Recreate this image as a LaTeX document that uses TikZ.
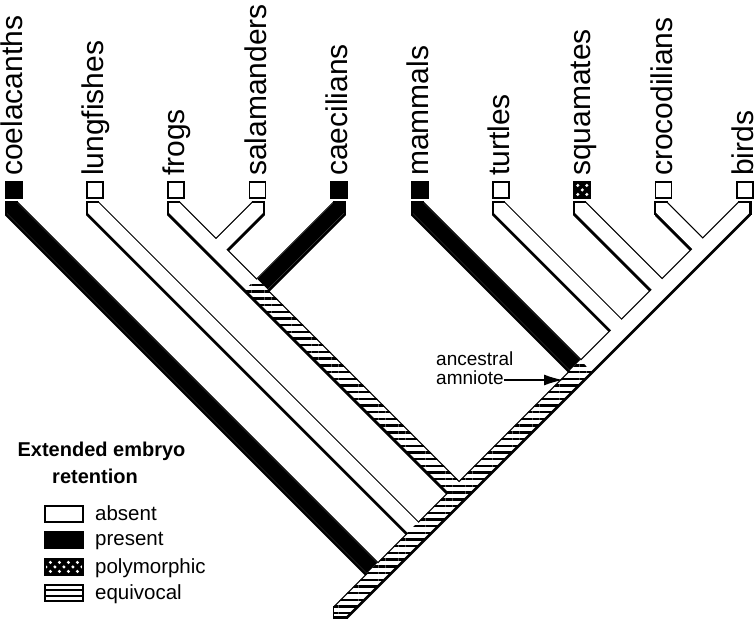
\documentclass[tikz,border=0pt]{standalone}
\usepackage{fontspec}
\setmainfont{Liberation Sans}
\usetikzlibrary{arrows.meta,patterns.meta}

\begin{document}
\begin{tikzpicture}[x=1pt, y=-1pt,
    taxon/.style={rotate=90, anchor=base west, inner sep=0pt, font=\fontsize{30}{36}\selectfont},
    tipbox/.style={draw, line width=1.8pt, minimum width=16pt, minimum height=16pt, inner sep=0pt, anchor=north west},
    legbox/.style={draw, line width=1.8pt, minimum width=38pt, minimum height=16pt, inner sep=0pt, anchor=north west},
    legtext/.style={anchor=base west, inner sep=0pt, font=\fontsize{20.5}{24}\selectfont},
    legtitle/.style={anchor=base, inner sep=0pt, font=\bfseries\fontsize{20}{24}\selectfont},
    anclabel/.style={anchor=base west, inner sep=0pt, font=\fontsize{19}{22}\selectfont},
    absent/.style={fill=white},
    present/.style={fill=black},
    poly/.style={fill=black, path picture={
        \foreach \dx in {-18,-9,0,9,18} {
          \fill[white] (path picture bounding box.center) ++(\dx,0) circle (1.7pt);
          \fill[white] (path picture bounding box.center) ++(\dx+4.5,4.5) circle (1.7pt);
          \fill[white] (path picture bounding box.center) ++(\dx+4.5,-4.5) circle (1.7pt);
        }}},
    equiv/.style={fill=white, path picture={
        \draw[line width=1.8pt] (path picture bounding box.west) ++(0,-3) -- ++(40,0);
        \draw[line width=1.8pt] (path picture bounding box.west) ++(0,3) -- ++(40,0);}},
    hatch/.style={pattern={Lines[angle=0,distance=6.7pt,line width=2.4pt]}},
    arr/.style={-{Latex[length=19pt,width=11pt]}, line width=1.6pt}
]
\useasboundingbox (0,0) rectangle (756,620);

% centre of each branch where it starts (y=202), and the joints
\coordinate (tcoel) at (6,202);
\coordinate (tlung) at (87.2,202);
\coordinate (tfrog) at (168.4,202);
\coordinate (tsala) at (263.6,202);
\coordinate (tcaec) at (344.8,202);
\coordinate (tmamm) at (412,202);
\coordinate (tturt) at (493.2,202);
\coordinate (tsqua) at (574.4,202);
\coordinate (tcroc) at (655.6,202);
\coordinate (tbird) at (750,202);
\coordinate (root) at (330,622);
\coordinate (jcoel) at (378,574);
\coordinate (jlung) at (418.6,533.4);
\coordinate (jamph) at (459.2,492.8);
\coordinate (jsala) at (216,249.6);
\coordinate (jcaec) at (256.6,290.2);
\coordinate (jmamm) at (581,371);
\coordinate (jturt) at (621.6,330.4);
\coordinate (jsqua) at (662.2,289.8);
\coordinate (jcroc) at (702.8,249.2);
% where the black branches stop
\coordinate (ecoel) at (372,568);
\coordinate (ecaec) at (262.6,284.2);
\coordinate (emamm) at (575,365);

\def\branchlist{tcoel/jcoel, tlung/jlung, tfrog/jamph, tsala/jsala, tcaec/jcaec,
  tmamm/jmamm, tturt/jturt, tsqua/jsqua, tcroc/jcroc, tbird/root}

% shadow, outline, inside
\foreach \a/\b in \branchlist
  \draw[line width=17pt, shorten <=-14pt, transform canvas={yshift=-2.4pt}] (\a) -- (\b);
\foreach \a/\b in \branchlist
  \draw[line width=17pt, shorten <=-14pt] (\a) -- (\b);
\foreach \a/\b in \branchlist
  \draw[white, line width=14.6pt, shorten <=-14pt] (\a) -- (\b);

% present
\foreach \a/\b in {tcoel/ecoel, tcaec/ecaec, tmamm/emamm}
  \draw[line width=14.6pt, shorten <=-14pt] (\a) -- (\b);

% equivocal
\fill[hatch] (333,607) -- (333,617) -- (347,617) -- (592,372) -- (580,360) -- cycle;
\fill[hatch] (256.6,278.2) -- (244.6,290.2) -- (453.2,498.8) -- (465.2,486.8) -- cycle;

% square off the ends
\fill[white] (-5,-5) rectangle (770,201.4);
\foreach \xl in {5,86.2,167.4,411,492.2,573.4,654.6} {
  \fill[white] (\xl-15,195) rectangle (\xl,216);
  \draw[line width=2.2pt] (\xl+0.6,201.4) -- (\xl+0.6,215);
  \draw[line width=1.2pt] (\xl,202) -- (\xl+13,202);
}
\foreach \xr in {264.6,345.8,751} {
  \fill[white] (\xr,195) rectangle (\xr+15,216);
  \draw[line width=2.2pt] (\xr-0.6,201.4) -- (\xr-0.6,215);
  \draw[line width=1.2pt] (\xr-13,202) -- (\xr,202);
}
\fill[white] (300,618.5) rectangle (400,640);
\fill[white] (315,590) rectangle (333,640);
\draw[line width=2.6pt] (333,617.2) -- (347.8,617.2);
\draw[line width=1.4pt] (333.7,606) -- (333.7,618.5);

% taxa
\foreach \xl/\name/\st [count=\i] in {5/coelacanths/present, 86.2/lungfishes/absent,
    167.4/frogs/absent, 248.6/salamanders/absent, 329.8/caecilians/present,
    411/mammals/present, 492.2/turtles/absent, 573.4/squamates/poly,
    654.6/crocodilians/absent, 735.8/birds/absent} {
  \node[tipbox, \st] (box\i) at (\xl,181) {};
  \node[taxon] (name\i) at (\xl+17.5,176) {\name};
}

% ancestral amniote
\coordinate (amn) at (563,380);
\node[anclabel] (anc1) at (436,366) {ancestral};
\node[anclabel] (anc2) at (436,384.3) {amniote};
\draw[arr] (anc2.east |- amn) -- (amn);

% legend
\node[legtitle] (title1) at (101.5,456.7) {Extended embryo};
\node[legtitle] (title2) at (95,483.3) {retention};
\node[legbox, absent] (kabs) at (44,505.5) {};
\node[legtext] (tabs) at (95,521) {absent};
\node[legbox, present] (kpre) at (44,531) {};
\node[legtext] (tpre) at (95,546) {present};
\node[legbox, poly] (kpol) at (44,558) {};
\node[legtext] (tpol) at (95,573) {polymorphic};
\node[legbox, equiv] (kequ) at (44,584) {};
\node[legtext] (tequ) at (95,599) {equivocal};
\end{tikzpicture}
\end{document}
